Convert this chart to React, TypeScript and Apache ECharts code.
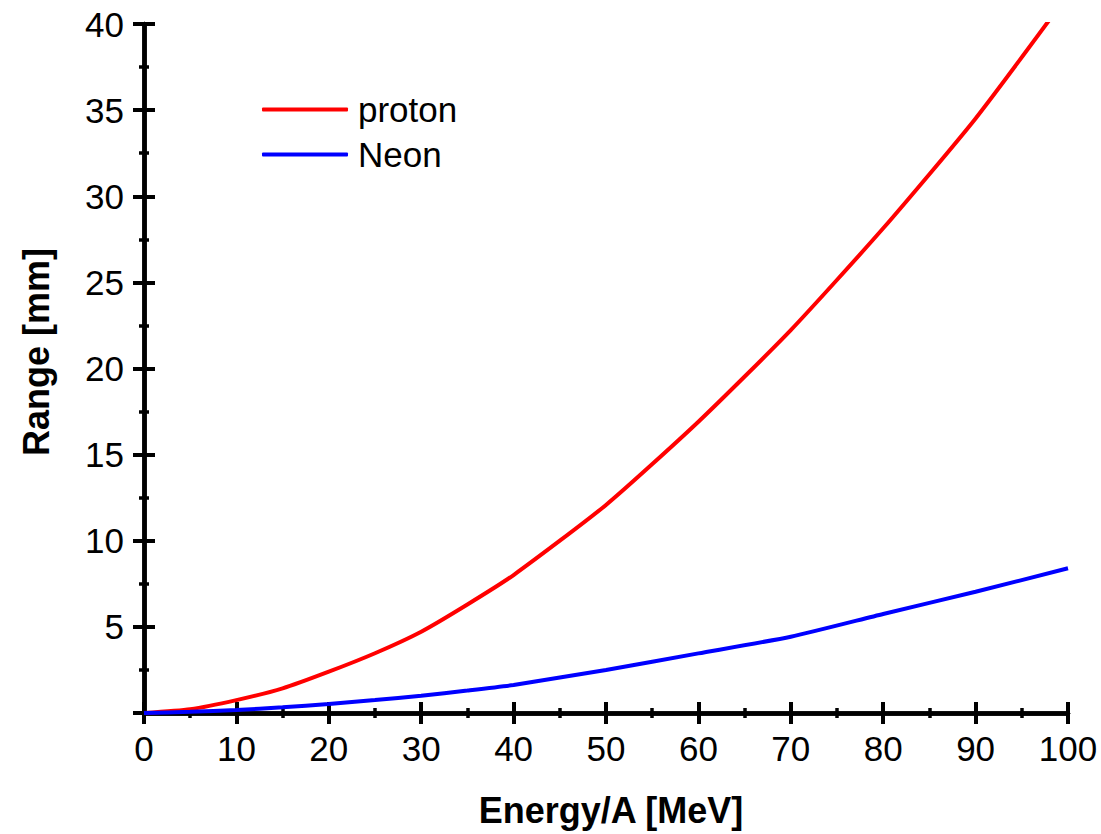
import React, { useEffect, useRef } from "react";
import * as echarts from "echarts";

const energy = [0, 5, 10, 15, 20, 25, 30, 35, 40, 50, 60, 70, 80, 90, 100];
const protonRange = [0, 0.22, 0.75, 1.43, 2.4, 3.47, 4.72, 6.3, 8.01, 12.08, 16.91, 22.23, 28.14, 34.52, 41.7];
const neonRange = [0, 0.07, 0.17, 0.33, 0.52, 0.75, 1.0, 1.3, 1.63, 2.5, 3.46, 4.43, 5.75, 7.04, 8.4];
const seriesNames = ["proton", "Neon"];
const xTitle = "Energy/A [MeV]";
const yTitle = "Range [mm]";

const FONT = "'Liberation Sans', Arial, sans-serif";

export default function App() {
  const ref = useRef<HTMLDivElement>(null);
  useEffect(() => {
    if (!ref.current) return;
    const chart = echarts.init(ref.current, undefined, { renderer: "svg" });
    const black = "#000";
    const baseX = { type: "value", min: 0, max: 100, interval: 10, splitLine: { show: false } };
    const baseY = { type: "value", min: 0, max: 40, interval: 5, splitLine: { show: false } };
    const lineW = 4.5;
    const tickW = 4;
    const minorW = 3.5;
    const option = {
      animation: false,
      backgroundColor: "#fff",
      grid: { left: 144, right: 33, top: 24, bottom: 121, containLabel: false },
      legend: {
        orient: "vertical",
        left: 262,
        top: 92,
        padding: 0,
        itemWidth: 86,
        itemHeight: 4,
        itemGap: 10,
        icon: "roundRect",
        textStyle: { fontFamily: FONT, fontSize: 35, color: black, padding: [0, 0, 0, 5] },
        data: seriesNames,
      },
      xAxis: [
        {
          ...baseX,
          position: "bottom",
          axisLine: { show: true, lineStyle: { color: black, width: lineW } },
          axisTick: { show: true, inside: true, length: 11, lineStyle: { color: black, width: tickW } },
          minorTick: { show: true, splitNumber: 2, length: 5, lineStyle: { color: black, width: minorW } },
          axisLabel: { fontFamily: FONT, fontSize: 35, color: black, margin: 18 },
        },
        {
          ...baseX,
          position: "bottom",
          axisLine: { show: false },
          axisTick: { show: true, inside: false, length: 11, lineStyle: { color: black, width: tickW } },
          axisLabel: { show: false },
        },
        {
          ...baseX,
          position: "top",
          axisLine: { show: true, lineStyle: { color: black, width: lineW } },
          axisTick: { show: true, inside: true, length: 11, lineStyle: { color: black, width: tickW } },
          minorTick: { show: true, splitNumber: 2, length: 5, lineStyle: { color: black, width: minorW } },
          axisLabel: { show: false },
        },
      ],
      yAxis: [
        {
          ...baseY,
          position: "left",
          axisLine: { show: true, lineStyle: { color: black, width: lineW } },
          axisTick: { show: true, inside: true, length: 11, lineStyle: { color: black, width: tickW } },
          minorTick: { show: true, splitNumber: 2, length: 5, lineStyle: { color: black, width: minorW } },
          axisLabel: {
            fontFamily: FONT,
            fontSize: 35,
            color: black,
            margin: 20,
            formatter: (v: number) => (v === 0 ? "" : String(v)),
          },
        },
        {
          ...baseY,
          position: "left",
          axisLine: { show: false },
          axisTick: { show: true, inside: false, length: 11, lineStyle: { color: black, width: tickW } },
          axisLabel: { show: false },
        },
        {
          ...baseY,
          position: "right",
          axisLine: { show: true, lineStyle: { color: black, width: lineW } },
          axisTick: { show: true, inside: true, length: 11, lineStyle: { color: black, width: tickW } },
          minorTick: { show: true, splitNumber: 2, length: 5, lineStyle: { color: black, width: minorW } },
          axisLabel: { show: false },
        },
      ],
      graphic: [
        {
          type: "text",
          x: 611,
          y: 810,
          style: {
            text: xTitle,
            font: `bold 36px ${FONT}`,
            fill: black,
            textAlign: "center",
            textVerticalAlign: "middle",
          },
        },
        {
          type: "text",
          x: 36,
          y: 352,
          rotation: Math.PI / 2,
          style: {
            text: yTitle,
            font: `bold 36px ${FONT}`,
            fill: black,
            textAlign: "center",
            textVerticalAlign: "middle",
          },
        },
      ],
      series: [
        {
          name: seriesNames[0],
          type: "line",
          xAxisIndex: 0,
          yAxisIndex: 0,
          symbol: "none",
          smooth: 0.2,
          clip: true,
          lineStyle: { color: "#ff0000", width: 4 },
          itemStyle: { color: "#ff0000" },
          data: energy.map((e, i) => [e, protonRange[i]]),
          z: 3,
        },
        {
          name: seriesNames[1],
          type: "line",
          xAxisIndex: 0,
          yAxisIndex: 0,
          symbol: "none",
          smooth: 0.2,
          clip: true,
          lineStyle: { color: "#0000ff", width: 4 },
          itemStyle: { color: "#0000ff" },
          data: energy.map((e, i) => [e, neonRange[i]]),
          z: 4,
        },
      ],
    };
    chart.setOption(option as any);
    return () => chart.dispose();
  }, []);
  return (
    <div
      ref={ref}
      style={{ position: "absolute", left: 0, top: 0, width: 1101, height: 834 }}
    />
  );
}
